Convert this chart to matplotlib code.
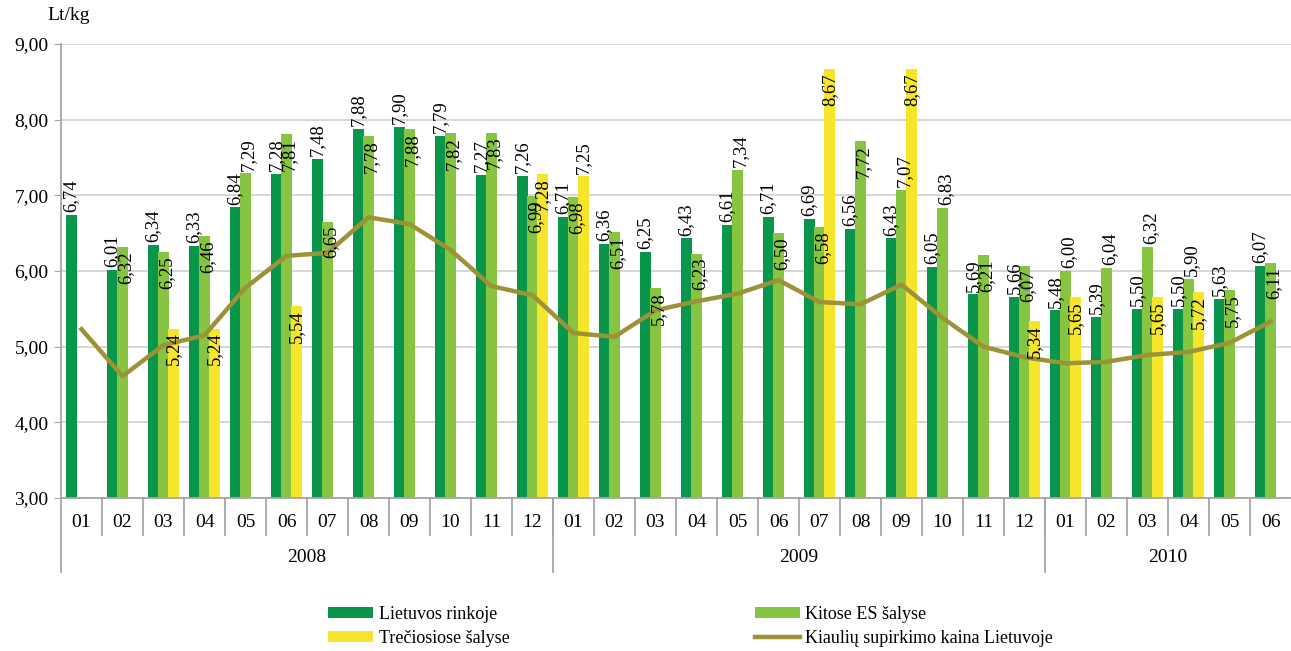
import numpy as np
import matplotlib.pyplot as plt
import matplotlib.transforms as mtransforms

plt.rcParams['font.family'] = ['Liberation Serif', 'DejaVu Serif']

nan = np.nan

# months 2008-01 .. 2010-06
months = ['01', '02', '03', '04', '05', '06', '07', '08', '09', '10', '11', '12',
          '01', '02', '03', '04', '05', '06', '07', '08', '09', '10', '11', '12',
          '01', '02', '03', '04', '05', '06']
years = ['2008', '2009', '2010']

lietuvos = [6.74, 6.01, 6.34, 6.33, 6.84, 7.28, 7.48, 7.88, 7.90, 7.79, 7.27, 7.26,
            6.71, 6.36, 6.25, 6.43, 6.61, 6.71, 6.69, 6.56, 6.43, 6.05, 5.69, 5.66,
            5.48, 5.39, 5.50, 5.50, 5.63, 6.07]
kitose_es = [nan, 6.32, 6.25, 6.46, 7.29, 7.81, 6.65, 7.78, 7.88, 7.82, 7.83, 6.99,
             6.98, 6.51, 5.78, 6.23, 7.34, 6.50, 6.58, 7.72, 7.07, 6.83, 6.21, 6.07,
             6.00, 6.04, 6.32, 5.90, 5.75, 6.11]
treciosiose = [nan, nan, 5.24, 5.24, nan, 5.54, nan, nan, nan, nan, nan, 7.28,
               7.25, nan, nan, nan, nan, nan, 8.67, nan, 8.67, nan, nan, 5.34,
               5.65, nan, 5.65, 5.72, nan, nan]
supirkimo_kaina = [5.23, 4.61, 5.02, 5.15, 5.78, 6.20, 6.24, 6.71, 6.62, 6.28, 5.80, 5.68,
                   5.18, 5.13, 5.48, 5.60, 5.70, 5.88, 5.59, 5.56, 5.82, 5.38, 5.00, 4.86,
                   4.78, 4.80, 4.89, 4.93, 5.05, 5.33]

# label placement (style only): 'o' above bar top, 'i' just below bar top
kitose_pos = ['-', 'i', 'i', 'i', 'o', 'i', 'i', 'i', 'i', 'i', 'i', 'i',
              'i', 'i', 'i', 'i', 'o', 'i', 'i', 'i', 'o', 'o', 'i', 'i',
              'o', 'o', 'o', 'o', 'i', 'i']
trec_pos = ['-', '-', 'i', 'i', '-', 'i', '-', '-', '-', '-', '-', 'i',
            'o', '-', '-', '-', '-', '-', 'i', '-', 'i', '-', '-', 'i',
            'i', '-', 'i', 'i', '-', '-']

c_dark = '#07964a'
c_light = '#86c441'
c_yellow = '#f6e52b'
c_line = '#9c9238'
c_axis = '#a6a6a6'

fig = plt.figure(figsize=(12.91, 6.51), dpi=100)
ax = fig.add_axes([61 / 1291, 1 - 498 / 651, 1230 / 1291, 454 / 651])

x = np.arange(len(months))
w = 0.28

def fmt(v):
    return f'{v:.2f}'.replace('.', ',')

def bars(vals, off, color, label):
    vals = np.array(vals)
    m = ~np.isnan(vals)
    return ax.bar(x[m] + off, vals[m], width=w, color=color, label=label, zorder=2)

def labels(vals, off, pos, dx=0.0):
    for i, v in enumerate(vals):
        if np.isnan(v):
            continue
        p = pos[i] if pos is not None else 'o'
        if p == 'o':
            ax.annotate(fmt(v), (x[i] + off + dx, v), xytext=(0, 2), textcoords='offset points',
                        rotation=90, ha='center', va='bottom', fontsize=13.5, zorder=5)
        else:
            ax.annotate(fmt(v), (x[i] + off + dx, v), xytext=(0, -3), textcoords='offset points',
                        rotation=90, ha='center', va='top', fontsize=13.5, zorder=5)

b1 = bars(lietuvos, -0.25, c_dark, 'Lietuvos rinkoje')
b2 = bars(kitose_es, 0.0, c_light, 'Kitose ES šalyse')
b3 = bars(treciosiose, 0.25, c_yellow, 'Trečiosiose šalyse')
ln, = ax.plot(x, supirkimo_kaina, color=c_line, lw=3.2, zorder=4,
              label='Kiaulių supirkimo kaina Lietuvoje')

labels(lietuvos, -0.25, None)
labels(kitose_es, 0.0, kitose_pos, dx=0.08)
labels(treciosiose, 0.25, trec_pos)

ax.set_xlim(-0.5, len(months) - 0.5)
ax.set_ylim(3, 9)
ax.set_yticks(np.arange(3, 9.01, 1))
ax.set_yticklabels([fmt(t) for t in np.arange(3, 9.01, 1)], fontsize=14)
ax.tick_params(axis='y', length=5, color=c_axis, pad=4)
ax.yaxis.grid(True, color='#d3d3d3', lw=1.3, zorder=0)
ax.set_axisbelow(True)
ax.set_xticks([])

for s in ['top', 'right']:
    ax.spines[s].set_visible(False)
ax.spines['left'].set_color(c_axis)
ax.spines['bottom'].set_color(c_axis)
ax.spines['left'].set_linewidth(1.3)
ax.spines['bottom'].set_linewidth(1.3)

# two-level category axis
trans = mtransforms.blended_transform_factory(ax.transData, ax.transAxes)
for i, m in enumerate(months):
    ax.text(x[i], -0.053, m, transform=trans, ha='center', va='center', fontsize=14)
for b in np.arange(0.5, len(months) - 0.5, 1):
    ax.plot([b, b], [0, -0.082], transform=trans, color=c_axis, lw=1.3, clip_on=False)
for b in [11.5, 23.5]:
    ax.plot([b, b], [0, -0.163], transform=trans, color=c_axis, lw=1.3, clip_on=False)
ax.plot([-0.5, -0.5], [0, -0.163], transform=trans, color=c_axis, lw=1.3, clip_on=False)
for j, yr in enumerate(years):
    start = j * 12
    end = min(start + 12, len(months))
    ax.text((start + end - 1) / 2, -0.13, yr, transform=trans, ha='center', va='center', fontsize=14)

fig.text(47 / 1291, 1 - 16 / 651, 'Lt/kg', ha='left', va='center', fontsize=14)

fig.legend([b1, b3, b2, ln],
           ['Lietuvos rinkoje', 'Trečiosiose šalyse', 'Kitose ES šalyse',
            'Kiaulių supirkimo kaina Lietuvoje'],
           ncol=2, loc='upper left', bbox_to_anchor=(319 / 1291, 1 - 597 / 651),
           frameon=False, borderpad=0, fontsize=13, handlelength=2.5, handleheight=0.55,
           handletextpad=0.3, columnspacing=13.6, labelspacing=0.4)

fig.savefig('out.png', dpi=100)
